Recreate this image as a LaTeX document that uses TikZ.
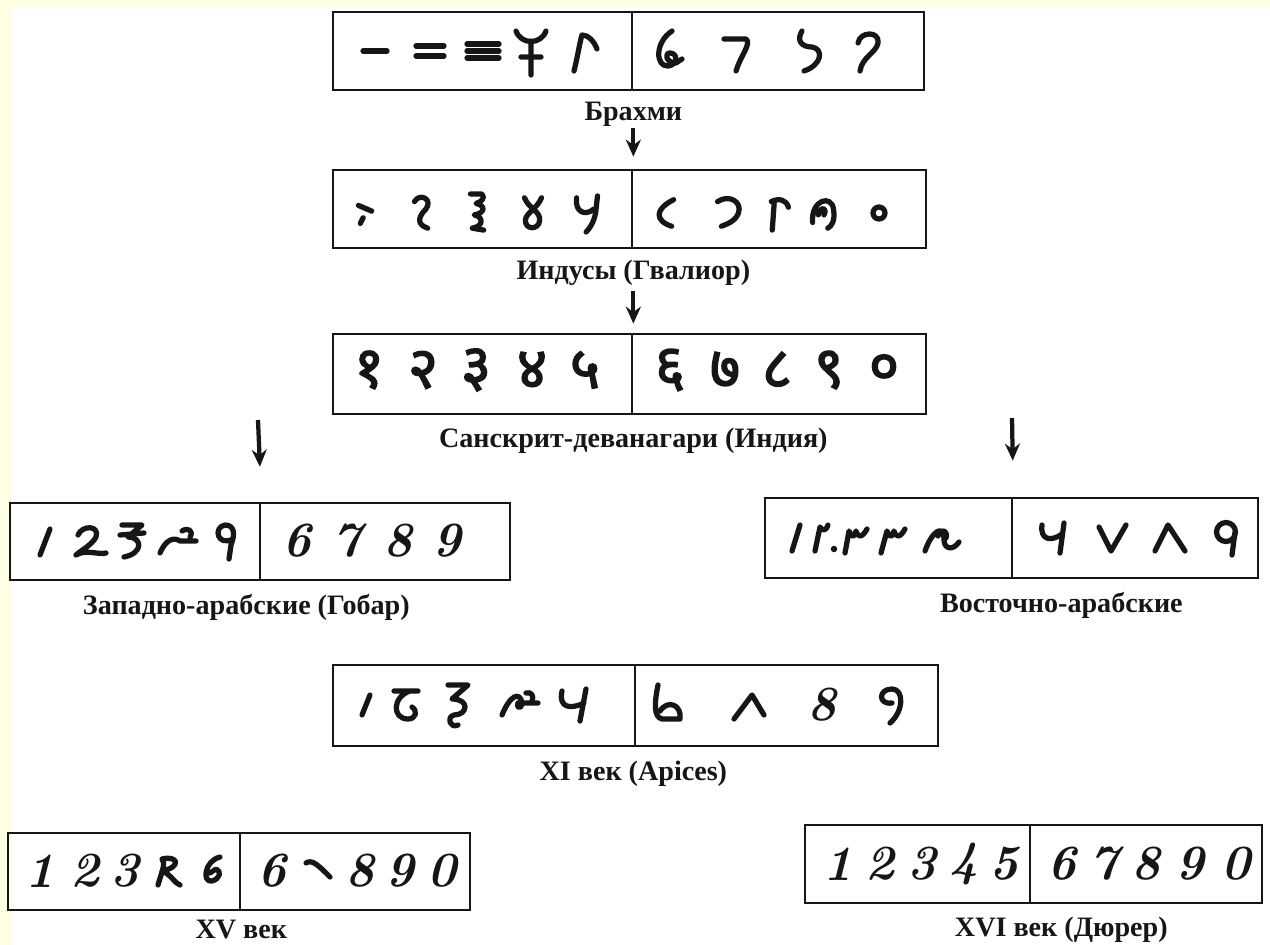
\documentclass[tikz,border=0pt]{standalone}
\usepackage{fontspec}
\usepackage{tikz}
\usetikzlibrary{arrows.meta, positioning}
\newfontfamily\cyrfont{Liberation Serif}
\newfontfamily\devfont[Script=Devanagari, FakeBold=2.5]{Noto Sans}
\definecolor{paperyellow}{RGB}{255,255,228}
\definecolor{inkgray}{RGB}{22,22,22}

\begin{document}
\begin{tikzpicture}[x=0.02cm, y=-0.02cm,
  cell/.style={draw=inkgray, line width=0.055cm, inner sep=0pt},
  lbl/.style={font=\cyrfont\bfseries\fontsize{16}{18}\selectfont, inner sep=0pt, text=inkgray},
  digit/.style={font=\fontsize{28}{30}\selectfont\bfseries\itshape\addfontfeatures{FakeBold=1.6}, inner sep=0pt, text=inkgray},
  devdigit/.style={font=\devfont\fontsize{33}{35}\selectfont, inner sep=0pt, text=inkgray},
  pen/.style={line width=0.105cm, line cap=round, line join=round, inkgray},
  small/.style={pen, scale=0.95},
  arr/.style={-{Stealth[length=0.34cm, width=0.3cm]}, line width=0.085cm, inkgray}
]
\fill[paperyellow] (0,0) rectangle (1270,945);
\fill[white] (12,8) rectangle (1270,945);
\useasboundingbox (0,0) rectangle (1270,945);

% boxes
\node[cell, minimum width=5.98cm, minimum height=1.56cm] (brahmiL) at (482.5,51) {};
\node[cell, minimum width=5.84cm, minimum height=1.56cm] (brahmiR) at (778,51) {};
\node[cell, minimum width=5.98cm, minimum height=1.56cm] (indusL) at (482.5,209) {};
\node[cell, minimum width=5.88cm, minimum height=1.56cm] (indusR) at (779,209) {};
\node[cell, minimum width=5.98cm, minimum height=1.6cm] (sansL) at (482.5,374) {};
\node[cell, minimum width=5.88cm, minimum height=1.6cm] (sansR) at (779,374) {};
\node[cell, minimum width=5.0cm, minimum height=1.54cm] (gobarL) at (135,541.5) {};
\node[cell, minimum width=5.0cm, minimum height=1.54cm] (gobarR) at (385,541.5) {};
\node[cell, minimum width=4.94cm, minimum height=1.6cm] (eastL) at (888.5,538) {};
\node[cell, minimum width=4.92cm, minimum height=1.6cm] (eastR) at (1135,538) {};
\node[cell, minimum width=6.04cm, minimum height=1.62cm] (apicesL) at (484,705.5) {};
\node[cell, minimum width=6.06cm, minimum height=1.62cm] (apicesR) at (786.5,705.5) {};
\node[cell, minimum width=4.64cm, minimum height=1.54cm] (xvL) at (124,871.5) {};
\node[cell, minimum width=4.6cm, minimum height=1.54cm] (xvR) at (355,871.5) {};
\node[cell, minimum width=4.5cm, minimum height=1.56cm] (xviL) at (917.5,864) {};
\node[cell, minimum width=4.64cm, minimum height=1.56cm] (xviR) at (1146,864) {};

% labels
\node[lbl, below=0.2cm of brahmiL.south east] (brahmiT) {Брахми};
\node[lbl, below=0.2cm of indusL.south east] (indusT) {Индусы (Гвалиор)};
\node[lbl, below=0.24cm of sansL.south east] (sansT) {Санскрит-деванагари (Индия)};
\node[lbl, below=0.26cm of gobarL.south east, xshift=-0.3cm] (gobarT) {Западно-арабские (Гобар)};
\node[lbl, below=0.26cm of eastL.south east, xshift=0.96cm] (eastT) {Восточно-арабские};
\node[lbl, below=0.26cm of apicesL.south east, xshift=-0.06cm] (apicesT) {XI век (Apices)};
\node[lbl, below=0.16cm of xvL.south east] (xvT) {XV век};
\node[lbl, below=0.24cm of xviL.south east, xshift=0.6cm] (xviT) {XVI век (Дюрер)};

% arrows
\coordinate (gobarIn) at (258,420);
\coordinate (eastIn) at (1012,418);
\draw[arr, shorten <=0.04cm, shorten >=0.24cm] (brahmiT) -- (indusL.north east);
\draw[arr, shorten <=0.1cm, shorten >=0.18cm] (indusT) -- (sansL.north east);
\draw[arr, shorten >=0.7cm] (gobarIn) -- (gobarL.north east);
\draw[arr, shorten >=0.72cm] (eastIn) -- (eastL.north east);

% Brahmi
\draw[pen, shift={(375,51)}] (-12,0) -- (12,0);
\draw[pen, shift={(430,51)}] (-14,-5) -- (14,-5) (-14,5) -- (14,5);
\draw[pen, shift={(483,51)}] (-16,-7) -- (16,-7) (-16,0) -- (16,0) (-16,7) -- (16,7);
\draw[pen, shift={(531,51)}] (-15,-20) .. controls (-10,-6) and (10,-6) .. (15,-20) (0,-10) -- (0,24) (-10,6) -- (10,6);
\draw[pen, shift={(584,51)}] (-10,20) .. controls (-6,4) and (-4,-10) .. (-2,-16) .. controls (4,-16) and (10,-10) .. (13,-2);
\draw[pen, shift={(668,51)}] (4,-20) .. controls (-14,-8) and (-12,16) .. (0,15) .. controls (10,14) and (10,2) .. (2,2) .. controls (-4,2) and (-2,12) .. (8,12) -- (14,8);
\draw[pen, shift={(738,51)}] (-14,-12) -- (8,-12) .. controls (14,-8) and (2,6) .. (-2,20);
\draw[pen, shift={(810,51)}] (-8,-20) .. controls (-14,-10) and (-8,-4) .. (2,-4) .. controls (14,-2) and (12,14) .. (-6,20);
\draw[pen, shift={(868,51)}] (-10,-8) .. controls (-8,-20) and (12,-20) .. (10,-8) .. controls (8,2) and (-6,6) .. (-8,20);

% Gwalior
\draw[shift={(366,213)}, small] (-8,-8) -- (6,-2) (-3,5) -- (-6,11);
\draw[shift={(422,213)}, small] (-8,-12) .. controls (-2,-22) and (12,-14) .. (4,-4) .. controls (-4,4) and (-6,12) .. (6,16);
\draw[shift={(478,213)}, small] (-8,-20) -- (4,-20) .. controls (8,-16) and (4,-12) .. (-2,-10) .. controls (8,-8) and (8,0) .. (-4,2) .. controls (6,4) and (6,14) .. (-6,16) -- (6,18);
\draw[shift={(533,213)}, small] (-9,-16) .. controls (-4,-4) and (8,-2) .. (7,8) .. controls (6,18) and (-8,18) .. (-8,8) .. controls (-8,0) and (4,-4) .. (9,-16);
\draw[shift={(588,213)}, small] (-12,-16) .. controls (-14,-2) and (-4,4) .. (6,-4) (10,-18) -- (8,0) .. controls (6,10) and (2,16) .. (-2,20);
\draw[shift={(666,213)}, small] (8,-14) .. controls (-12,-4) and (-12,8) .. (6,14);
\draw[shift={(729,213)}, small] (-12,-12) .. controls (0,-20) and (14,-12) .. (10,0) .. controls (6,10) and (-4,12) .. (-8,14);
\draw[shift={(777,213)}, small] (-5,18) -- (-3,-10) (-6,-12) .. controls (2,-16) and (10,-14) .. (12,-6);
\draw[shift={(824,213)}, small] (-12,10) .. controls (-14,-14) and (8,-20) .. (10,-4) .. controls (12,8) and (8,14) .. (4,16) (-6,2) .. controls (-4,-8) and (4,-6) .. (0,2);
\draw[pen] (879,213) circle[radius=0.12cm];

% Sanskrit
\foreach \x/\d [count=\i] in {369/१,423/२,476/३,532/४,585/५,670/६,725/७,777/८,829/९,884/०}
  \node[devdigit] (sans\i) at (\x,370) {\d};

% West Arabic (Gobar)
\draw[pen, shift={(45,541)}] (-5,14) -- (5,-12);
\draw[pen, shift={(90,541)}] (-12,-6) .. controls (-8,-16) and (10,-16) .. (6,-4) .. controls (2,4) and (-10,10) .. (-14,14) .. controls (-4,8) and (8,14) .. (16,12);
\draw[pen, shift={(132,541)}] (-10,-16) -- (10,-16) -- (-4,-4) .. controls (10,-4) and (12,12) .. (-8,16) (-12,-6) -- (12,-8);
\draw[pen, shift={(178,541)}] (-18,12) .. controls (-12,-2) and (-4,-4) .. (2,0) -- (18,0) (4,-10) .. controls (10,-14) and (16,-10) .. (12,-4);
\draw[pen, shift={(225,541)}] (8,-2) .. controls (-8,6) and (-12,-14) .. (0,-16) .. controls (10,-16) and (10,-6) .. (6,4) -- (4,18);
\foreach \x/\d [count=\i] in {297/6,347/7,398/8,447/9}
  \node[digit] (gobar\i) at (\x,541) {\d};

% East Arabic
\draw[pen, shift={(796,538)}] (-4,13) -- (4,-13);
\draw[pen, shift={(818,538)}] (-3,13) -- (2,-11) .. controls (4,-6) and (9,-8) .. (10,-13);
\fill[inkgray] (834,549) circle[radius=0.065cm];
\draw[pen, shift={(856,538)}] (-11,15) -- (-7,-7) .. controls (-4,0) and (-2,0) .. (0,-7) .. controls (2,0) and (6,0) .. (11,-9);
\draw[pen, shift={(894,538)}] (-13,15) -- (-7,-7) .. controls (-4,0) and (-2,0) .. (0,-7) .. controls (2,0) and (6,0) .. (11,-9);
\draw[pen, shift={(942,538)}] (-17,13) .. controls (-10,-7) and (2,-15) .. (2,2) .. controls (2,11) and (11,13) .. (17,4) (-4,-2) .. controls (0,-11) and (6,-7) .. (4,0);
\draw[pen, shift={(1053,538)}] (-11,-13) .. controls (-13,2) and (-2,4) .. (9,-4) (11,-15) -- (7,15);
\draw[pen, shift={(1112,538)}] (-13,-11) -- (-1,13) -- (14,-13);
\draw[pen, shift={(1170,538)}] (-15,13) -- (-2,-13) -- (15,13);
\draw[pen, shift={(1226,538)}] (0,-6) circle[radius=0.19cm] (9,-6) -- (6,17);

% Apices
\draw[pen, shift={(366,705)}] (-4,10) -- (4,-10);
\draw[pen, shift={(406,705)}] (-12,-14) -- (12,-14) (4,-14) .. controls (-14,-8) and (-14,14) .. (2,14) .. controls (10,14) and (12,6) .. (6,2);
\draw[pen, shift={(458,705)}] (-10,-20) -- (10,-20) -- (-6,-6) .. controls (12,-6) and (10,10) .. (-4,10) .. controls (-12,12) and (-8,24) .. (0,20);
\draw[pen, shift={(520,705)}] (-18,10) .. controls (-10,-10) and (0,-14) .. (2,-2) .. controls (2,4) and (-4,4) .. (-2,-2) -- (18,-2) (6,-12) .. controls (12,-14) and (14,-8) .. (12,-4);
\draw[pen, shift={(572,705)}] (-10,-14) .. controls (-14,4) and (0,4) .. (12,-2) (14,-16) -- (8,16);
\draw[pen, shift={(666,705)}] (-8,-20) .. controls (-12,0) and (-12,12) .. (-4,14) -- (14,14) .. controls (16,0) and (2,-6) .. (-6,6);
\draw[pen, shift={(750,705)}] (-16,14) -- (2,-10) -- (14,10);
\node[digit] (apices8) at (822,705) {8};
\draw[pen, shift={(890,705)}] (2,-2) .. controls (-12,0) and (-12,-16) .. (2,-16) .. controls (14,-16) and (14,6) .. (0,18);

% XV
\foreach \x/\d [count=\i] in {40/1,85/2,125/3}
  \node[digit] (xvD\i) at (\x,871) {\d};
\draw[pen, shift={(168,871)}] (-10,14) .. controls (-6,0) and (-2,-8) .. (-6,-12) .. controls (10,-16) and (14,-4) .. (-6,0) .. controls (4,4) and (6,12) .. (12,14);
\draw[pen, shift={(212,871)}] (8,-14) .. controls (-8,-10) and (-10,12) .. (0,10) .. controls (8,8) and (10,0) .. (4,-2) -- (-2,2);
\node[digit] (xvD6) at (272,871) {6};
\draw[pen, shift={(318,871)}] (-12,-8) .. controls (-6,-12) and (0,-6) .. (12,6);
\foreach \x/\d [count=\i from 8] in {360/8,400/9,442/0}
  \node[digit] (xvD\i) at (\x,871) {\d};

% XVI
\foreach \x/\d [count=\i] in {838/1,880/2,922/3,964/4,1004/5,1062/6,1104/7,1146/8,1190/9,1236/0}
  \node[digit] (xviD\i) at (\x,864) {\d};
\end{tikzpicture}
\end{document}
